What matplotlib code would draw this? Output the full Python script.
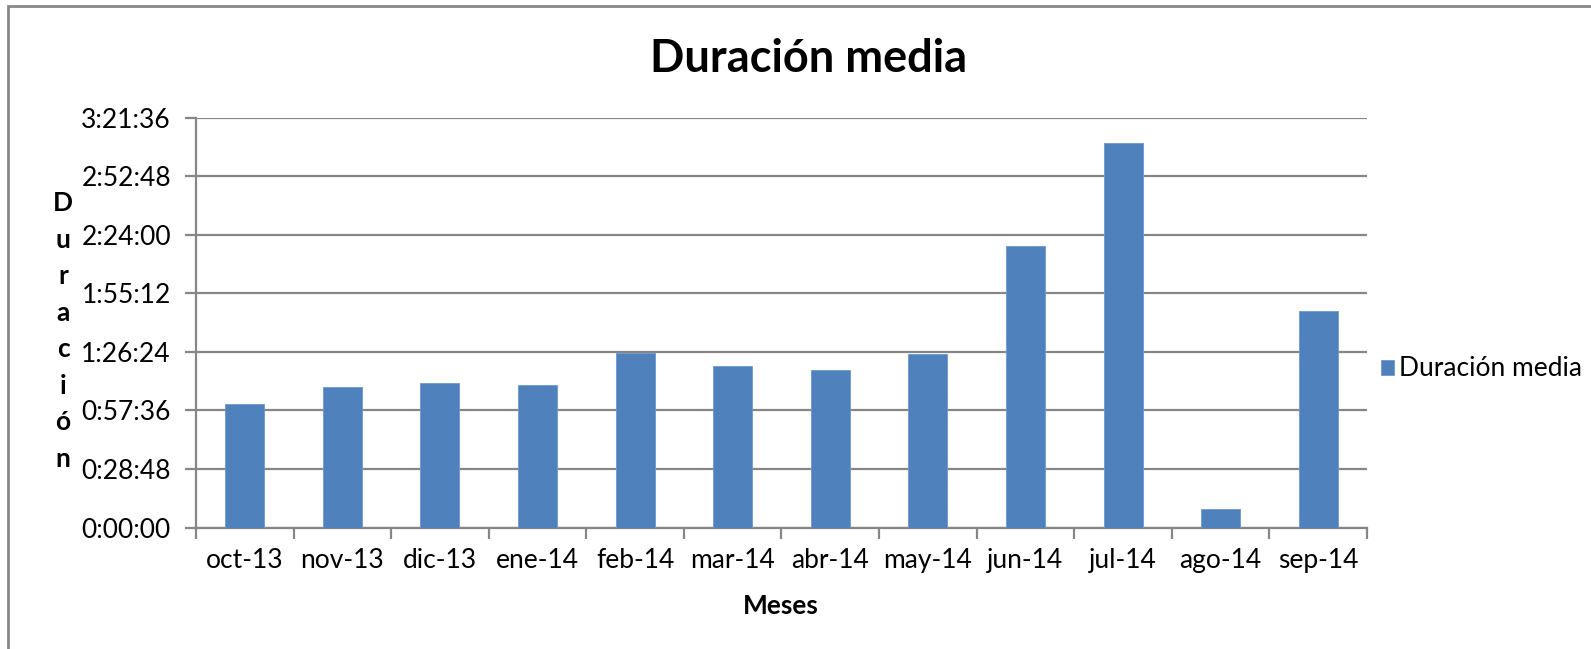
import numpy as np
import matplotlib
matplotlib.use("Agg")
import matplotlib.pyplot as plt
from matplotlib.ticker import FuncFormatter, MultipleLocator
from matplotlib.patches import Rectangle

# monthly average duration, in seconds
meses = ["oct-13", "nov-13", "dic-13", "ene-14", "feb-14", "mar-14",
         "abr-14", "may-14", "jun-14", "jul-14", "ago-14", "sep-14"]
duracion_seg = [3660, 4151, 4278, 4202, 5154, 4762,
                4644, 5109, 8307, 11347, 539, 6385]

titulo = "Duración media"
serie = "Duración media"
eje_x = "Meses"
eje_y = "Duración"

blue = "#4F81BD"
grid_gray = "#868686"
fs = 19

plt.rcParams["font.family"] = ["Lato", "DejaVu Sans"]


def hms(v, pos=None):
    v = int(round(v))
    return "%d:%02d:%02d" % (v // 3600, (v % 3600) // 60, v % 60)


W, H = 1591, 649
fig = plt.figure(figsize=(W / 100, H / 100), dpi=100, facecolor="white")
ax = fig.add_axes([196 / W, 1 - 527.6 / H, (1367 - 196) / W, (527.6 - 117.7) / H])

x = np.arange(len(meses))
ax.bar(x, duracion_seg, width=0.4, color=blue, edgecolor="#6F97CC",
       linewidth=0.6, label=serie, zorder=3)

ax.set_xlim(-0.5, len(meses) - 0.5)
ax.set_ylim(0, 12096)
ax.yaxis.set_major_locator(MultipleLocator(1728))
ax.yaxis.set_major_formatter(FuncFormatter(hms))
ax.grid(axis="y", color=grid_gray, linewidth=1.6, zorder=0)

# category boundaries get the tick marks, labels sit in between
ax.set_xticks(np.arange(-0.5, len(meses)))
ax.set_xticklabels([])
ax.set_xticks(x, minor=True)
ax.set_xticklabels(meses, minor=True)
ax.tick_params(axis="x", which="major", direction="out", length=8,
               width=1.6, color=grid_gray)
ax.tick_params(axis="x", which="minor", length=0, pad=15,
               labelsize=fs)
ax.tick_params(axis="y", direction="out", length=8, width=1.6,
               color=grid_gray, pad=10, labelsize=fs)

for side in ["top", "right"]:
    ax.spines[side].set_visible(False)
for side in ["left", "bottom"]:
    ax.spines[side].set_color(grid_gray)
    ax.spines[side].set_linewidth(1.6)

fig.text(809 / W, 1 - 59 / H, titulo, ha="center", va="center",
         fontsize=32.5, fontweight="bold")
fig.text(781 / W, 1 - 606 / H, eje_x, ha="center", va="center",
         fontsize=fs, fontweight="bold")
fig.text(63 / W, 1 - 331 / H, "\n".join(eje_y), ha="center", va="center",
         fontsize=fs, fontweight="bold", linespacing=1.63)

fig.legend(loc="center left", bbox_to_anchor=(1381 / W, 1 - 369 / H),
           frameon=False, fontsize=fs, handlelength=0.5, handleheight=0.5,
           handletextpad=0.2, borderpad=0, borderaxespad=0)

# chart-area border (only left and top edges are inside the picture)
fig.patches.append(Rectangle((8 / W, -0.1), 1.2, 1.1 - 6 / H,
                             transform=fig.transFigure, fill=False,
                             edgecolor="#898989", linewidth=2))

fig.savefig("out.png", dpi=100, facecolor="white")
